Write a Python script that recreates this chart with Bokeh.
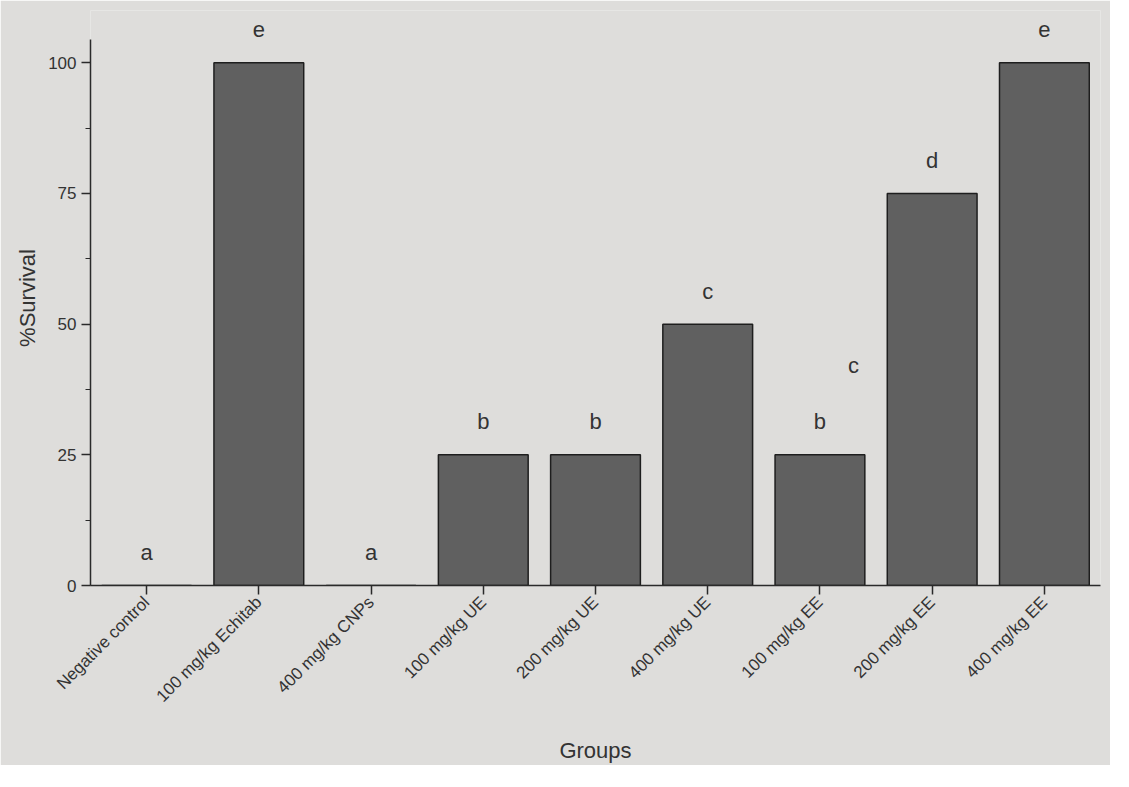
from bokeh.plotting import figure
from bokeh.models import ColumnDataSource, SingleIntervalTicker, Range1d
from bokeh.transform import dodge
from bokeh.embed import file_html
from bokeh.resources import INLINE
import math

groups = ["Negative control", "100 mg/kg Echitab", "400 mg/kg CNPs", "100 mg/kg UE",
          "200 mg/kg UE", "400 mg/kg UE", "100 mg/kg EE", "200 mg/kg EE", "400 mg/kg EE"]
survival = [0, 100, 0, 25, 25, 50, 25, 75, 100]
letters = ["a", "e", "a", "b", "b", "c", "b", "d", "e"]
extra_letter = ["c"]
extra_group = ["100 mg/kg EE"]
extra_y = [42]

BG = "#dedddb"
FONT = "Liberation Sans"

p = figure(x_range=groups, y_range=Range1d(0, 110), width=1110, height=765,
           output_backend="svg", toolbar_location=None,
           background_fill_color=BG, border_fill_color=BG,
           min_border_left=90, min_border_right=10, min_border_top=10,
           min_border_bottom=178)
p.outline_line_color = None
p.xgrid.grid_line_color = None
p.ygrid.grid_line_color = None

src = ColumnDataSource(dict(x=groups, top=survival, lab=letters))
p.vbar(x="x", top="top", width=0.8, source=src, fill_color="#606060",
       line_color="#1e1e1e", line_width=1.5)
p.text(x="x", y="top", text="lab", source=src, text_align="center",
       text_baseline="middle", y_offset=-33, text_font_size="22px",
       text_color="#333333", text_font={"value": FONT})

esrc = ColumnDataSource(dict(x=extra_group, y=extra_y, lab=extra_letter))
p.text(x=dodge("x", 0.3, range=p.x_range), y="y", text="lab", source=esrc,
       text_align="center", text_baseline="middle", text_font_size="22px",
       text_color="#333333", text_font={"value": FONT})

p.yaxis.ticker = SingleIntervalTicker(interval=25, num_minor_ticks=2)
p.yaxis.bounds = (0, 104.5)
p.yaxis.axis_label = "%Survival"
p.xaxis.axis_label = "Groups"
for ax in (p.xaxis[0], p.yaxis[0]):
    ax.axis_line_color = "#2a2a2a"
    ax.axis_line_width = 1.5
    ax.major_tick_line_color = "#2a2a2a"
    ax.major_tick_line_width = 1.5
    ax.major_tick_in = 0
    ax.major_tick_out = 9
    ax.major_label_text_font = FONT
    ax.major_label_text_color = "#333333"
    ax.axis_label_text_font = FONT
    ax.axis_label_text_font_style = "normal"
    ax.axis_label_text_color = "#333333"
    ax.axis_label_text_font_size = "22px"
p.yaxis.minor_tick_line_color = "#2a2a2a"
p.yaxis.minor_tick_in = 0
p.yaxis.minor_tick_out = 5
p.yaxis.major_label_text_font_size = "17px"
p.xaxis.major_label_text_font_size = "17px"
p.xaxis.major_label_orientation = math.pi / 4
p.xaxis.axis_label_standoff = 22

open("out.html", "w").write(file_html(p, INLINE))
